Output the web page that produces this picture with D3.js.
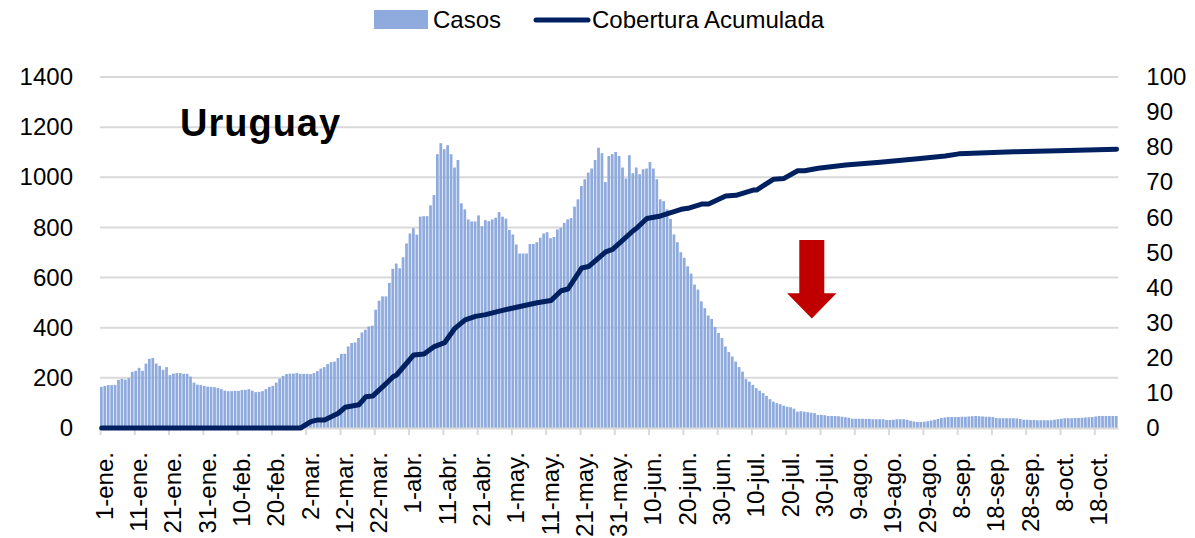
<!DOCTYPE html>
<html>
<head>
<meta charset="utf-8">
<script src="https://cdn.jsdelivr.net/npm/d3@7"></script>
<style>
  body { margin: 0; background: #fff; }
  svg { font-family: "Liberation Sans", Arial, sans-serif; }
</style>
</head>
<body>
<script>
// casos diarios desde el 1-ene (un valor por dia)
const casos = [
  164,168,171,171,172,192,196,193,199,224,
  228,240,228,257,276,279,257,248,232,243,
  211,217,219,219,216,216,205,181,173,171,
  168,165,164,163,160,155,149,147,147,148,
  148,152,152,155,149,143,144,147,155,164,
  168,181,197,208,215,217,217,219,216,216,
  216,215,219,227,237,243,255,263,265,279,
  296,296,325,339,341,359,381,392,405,408,
  472,508,525,525,579,635,656,637,681,736,
  776,797,771,843,845,845,888,929,1092,1136,
  1112,1128,1092,1039,1069,896,872,832,824,824,
  848,805,829,825,832,839,861,843,835,790,
  772,732,696,696,696,734,734,741,759,776,
  781,757,762,792,799,818,832,837,883,912,
  965,992,1019,1035,1069,1118,1096,981,1085,1092,
  1101,1085,1039,995,1088,1016,1039,1012,1032,1035,
  1061,1035,992,912,905,872,834,772,741,701,
  679,645,616,572,552,505,478,449,435,403,
  379,359,325,303,285,265,243,225,195,185,
  172,159,149,139,128,115,105,99,95,89,
  85,83,77,65,67,65,63,61,59,52,
  52,51,48,48,48,47,45,43,41,37,
  37,37,37,36,36,35,35,35,35,32,
  32,33,35,35,35,33,29,26,24,24,
  25,27,30,33,36,40,42,44,44,44,
  44,45,45,46,47,48,47,46,45,45,
  44,40,39,39,39,39,39,38,36,33,
  33,32,32,31,31,31,31,31,33,35,
  37,39,39,39,40,40,41,42,43,44,
  46,48,48,48,48,48,48
];

const coberturaDias = [0,58,61,63,65,69,71,75,77,79,82,85,86,91,94,97,100,103,106,109,
  112,116,120,127,131,134,136,140,142,147,149,155,156,159,163,169,171,175,177,182,
  185,190,191,196,199,203,205,209,217,227,238,246,250,266,279,296];
const coberturaValores = [0,0,1.8,2.3,2.3,4.2,5.9,6.6,8.9,9.1,11.8,14.6,15.1,20.8,21.1,23.2,24.3,28.4,30.8,31.8,
  32.3,33.3,34.2,35.7,36.3,39.1,39.6,45.6,46.0,50.2,50.9,56.2,56.9,59.7,60.4,62.3,62.6,63.8,63.8,66.1,
  66.3,67.8,67.8,70.9,71.1,73.3,73.3,74.0,74.9,75.7,76.7,77.5,78.1,78.7,79.0,79.4];

const tickLabels = ["1-ene.","11-ene.","21-ene.","31-ene.","10-feb.","20-feb.","2-mar.","12-mar.",
  "22-mar.","1-abr.","11-abr.","21-abr.","1-may.","11-may.","21-may.","31-may.","10-jun.",
  "20-jun.","30-jun.","10-jul.","20-jul.","30-jul.","9-ago.","19-ago.","29-ago.","8-sep.",
  "18-sep.","28-sep.","8-oct.","18-oct."];
const leftTicks = [0,200,400,600,800,1000,1200,1400];
const rightTicks = [0,10,20,30,40,50,60,70,80,90,100];

const W = 1195, H = 538;
const plotLeft = 100, plotRight = 1118.3, plotTop = 77, plotBottom = 428;

const svg = d3.select("body").append("svg").attr("width", W).attr("height", H);

const x = d3.scaleLinear().domain([0, casos.length]).range([plotLeft, plotRight]);
const yL = d3.scaleLinear().domain([0, 1400]).range([plotBottom, plotTop]);
const yR = d3.scaleLinear().domain([0, 100]).range([plotBottom, plotTop]);
const step = x(1) - x(0);

// lineas de la grilla
svg.append("g").selectAll("line").data(leftTicks.slice(1)).enter().append("line")
  .attr("x1", plotLeft).attr("x2", plotRight)
  .attr("y1", d => yL(d)).attr("y2", d => yL(d))
  .attr("stroke", "#d9d9d9").attr("stroke-width", 2);

// barras
svg.append("g").selectAll("rect").data(casos).enter().append("rect")
  .attr("x", (d, i) => x(i))
  .attr("width", step - 0.7)
  .attr("y", d => yL(d))
  .attr("height", d => yL(0) - yL(d))
  .attr("fill", "#8faadc");

// eje x
const xAxis = svg.append("g").attr("transform", "translate(0," + plotBottom + ")")
  .call(d3.axisBottom(x)
    .tickValues(tickLabels.map((d, i) => i * 10))
    .tickFormat((d, i) => tickLabels[i])
    .tickSize(7).tickSizeOuter(0));
xAxis.select(".domain").attr("stroke", "#d9d9d9").attr("stroke-width", 2);
xAxis.selectAll(".tick line").attr("stroke", "#d9d9d9").attr("stroke-width", 2);
xAxis.selectAll(".tick text")
  .attr("transform", "rotate(-90)")
  .attr("text-anchor", "end")
  .attr("x", -24).attr("y", 4).attr("dy", "0.35em")
  .attr("font-size", 24).attr("fill", "#000");

// eje izquierdo
const yAxisL = svg.append("g").attr("transform", "translate(" + plotLeft + ",0)")
  .call(d3.axisLeft(yL).tickValues(leftTicks).tickFormat(d3.format("d")).tickSize(0).tickPadding(27));
yAxisL.select(".domain").remove();
yAxisL.selectAll("text").attr("font-size", 24).attr("fill", "#000");

// eje derecho
const yAxisR = svg.append("g").attr("transform", "translate(" + plotRight + ",0)")
  .call(d3.axisRight(yR).tickValues(rightTicks).tickFormat(d3.format("d")).tickSize(0).tickPadding(28));
yAxisR.select(".domain").remove();
yAxisR.selectAll("text").attr("font-size", 24).attr("fill", "#000");

// linea de cobertura
const lineData = coberturaDias.map((d, i) => ({ d: d, v: coberturaValores[i] }));
svg.append("path").datum(lineData)
  .attr("fill", "none").attr("stroke", "#002060").attr("stroke-width", 5)
  .attr("stroke-linejoin", "round").attr("stroke-linecap", "round")
  .attr("d", d3.line().x(p => x(p.d + 0.5)).y(p => yR(p.v)));

// flecha roja
const ax = x(207.6);
const aTop = yL(750), aBase = yL(537), aTip = yL(437);
svg.append("polygon")
  .attr("points", [
    [ax - 12.5, aTop], [ax + 12.5, aTop], [ax + 12.5, aBase], [ax + 24.7, aBase],
    [ax, aTip], [ax - 24.7, aBase], [ax - 12.5, aBase]
  ].map(p => p.join(",")).join(" "))
  .attr("fill", "#c00000");

// titulo
svg.append("text").attr("x", 180).attr("y", 136)
  .attr("font-size", 38).attr("font-weight", "bold").attr("letter-spacing", 1)
  .text("Uruguay");

// leyenda
const lg = svg.append("g");
lg.append("rect").attr("x", 374).attr("y", 10).attr("width", 54).attr("height", 19).attr("fill", "#8faadc");
lg.append("text").attr("x", 433).attr("y", 28).attr("font-size", 24).text("Casos");
lg.append("line").attr("x1", 536).attr("x2", 588).attr("y1", 20).attr("y2", 20)
  .attr("stroke", "#002060").attr("stroke-width", 5).attr("stroke-linecap", "round");
lg.append("text").attr("x", 592).attr("y", 28).attr("font-size", 24).text("Cobertura Acumulada");
</script>
</body>
</html>
